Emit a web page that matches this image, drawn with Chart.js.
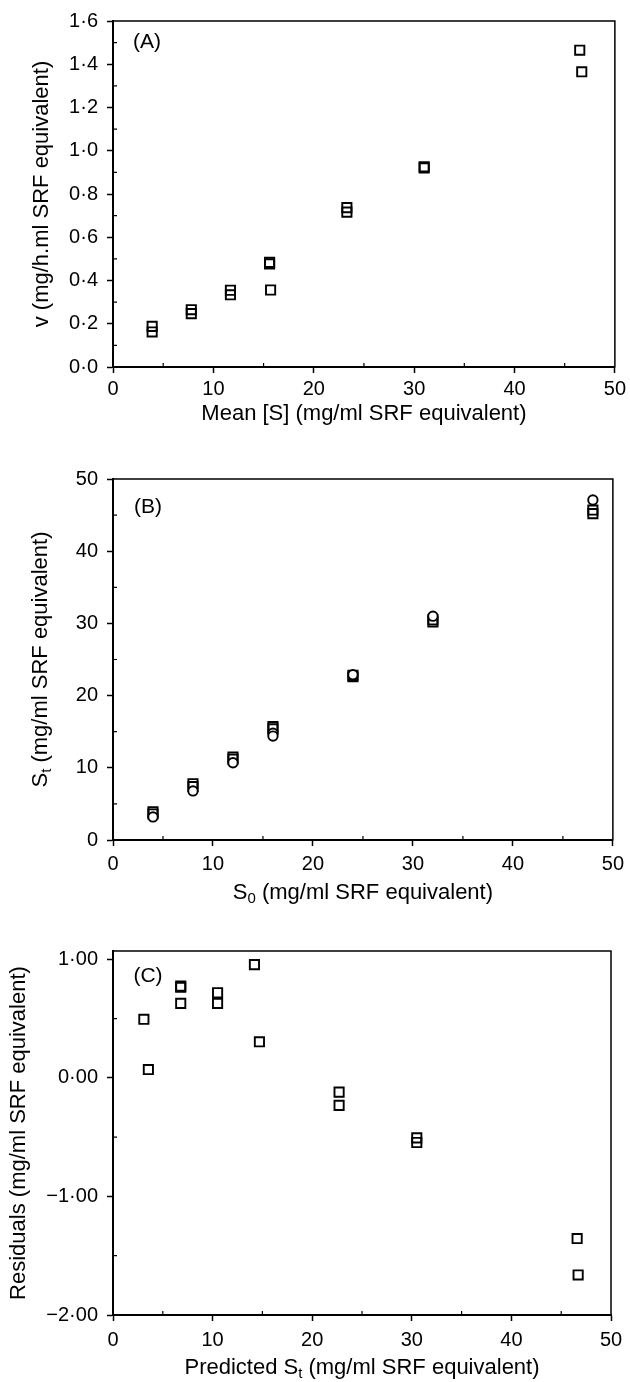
<!DOCTYPE html>
<html>
<head>
<meta charset="utf-8">
<script src="https://cdn.jsdelivr.net/npm/chart.js@4.4.1/dist/chart.umd.min.js"></script>
<style>
  body { margin: 0; background: #fff; }
  .panel { position: absolute; left: 0; }
</style>
</head>
<body>
<canvas id="panel-a" class="panel" width="630" height="435" style="top:0"></canvas>
<canvas id="panel-b" class="panel" width="630" height="475" style="top:435px"></canvas>
<canvas id="panel-c" class="panel" width="630" height="472" style="top:910px"></canvas>
<script>
// (A) initial rate against mean substrate concentration
const meanS = [3.9, 3.9, 7.8, 7.8, 11.7, 11.7, 15.6, 15.6, 15.7, 23.3, 23.3, 31.0, 31.0, 46.5, 46.7];
const rateV = [0.188, 0.162, 0.265, 0.247, 0.355, 0.334, 0.484, 0.477, 0.356, 0.737, 0.716, 0.926, 0.921, 1.465, 1.365];

// (B) substrate remaining against starting substrate
const s0Squares = [4, 4, 8, 8, 12, 12, 16, 16, 24, 24, 32, 32, 48, 48];
const stSquares = [3.9, 3.6, 7.8, 7.4, 11.5, 11.2, 15.7, 15.4, 22.6, 22.8, 30.2, 30.5, 45.7, 45.2];
const s0Circles = [4, 8, 12, 16, 16, 24, 32, 48];
const stCircles = [3.2, 6.8, 10.7, 14.8, 14.4, 22.9, 31.0, 47.1];

// (C) residuals against predicted St
const predictedSt = [3.1, 3.55, 6.8, 6.8, 6.8, 10.5, 10.5, 14.2, 14.7, 22.7, 22.7, 30.5, 30.5, 46.6, 46.7];
const residuals = [0.494, 0.07, 0.774, 0.764, 0.628, 0.718, 0.628, 0.955, 0.304, -0.12, -0.232, -0.506, -0.545, -1.355, -1.662];

// tick values
const concTicks = [0, 10, 20, 30, 40, 50];
const rateTicks = [0, 0.2, 0.4, 0.6, 0.8, 1.0, 1.2, 1.4, 1.6];
const residualTicks = [-2, -1, 0, 1];

const FONT = '"Liberation Sans", Arial, Helvetica, sans-serif';
Chart.defaults.font.family = FONT;
Chart.defaults.font.size = 20;
Chart.defaults.color = "#000";

const dot = (v, d) => (v < 0 ? "\u2212" : "") + Math.abs(v).toFixed(d).replace(".", "\u00b7");
const pts = (xs, ys) => xs.map((x, i) => ({ x, y: ys[i] }));

// text with subscript parts, centred on (0,0) of the current transform
function drawRich(ctx, parts) {
  const font = (p) => (p.sub ? "15px " : "22px ") + FONT;
  let total = 0;
  parts.forEach((p) => {
    ctx.font = font(p);
    total += ctx.measureText(p.t).width;
  });
  let x = -total / 2;
  parts.forEach((p) => {
    ctx.font = font(p);
    ctx.fillText(p.t, x, p.sub ? 6 : 0);
    x += ctx.measureText(p.t).width;
  });
}

const panelDecor = {
  id: "panelDecor",
  afterDraw(chart, args, opts) {
    const { ctx, chartArea: a, scales } = chart;
    const sx = scales.x;
    const sy = scales.y;
    ctx.save();
    ctx.strokeStyle = "#000";
    ctx.fillStyle = "#000";
    ctx.lineWidth = 1.5;
    ctx.strokeRect(a.left, a.top, a.right - a.left, a.bottom - a.top);

    // minor ticks, short and inward
    ctx.lineWidth = 1.2;
    ctx.beginPath();
    for (let k = 0; ; k++) {
      const v = sx.min + (2 * k + 1) * opts.minorX;
      if (v >= sx.max) break;
      const px = sx.getPixelForValue(v);
      ctx.moveTo(px, a.bottom);
      ctx.lineTo(px, a.bottom - 4);
    }
    for (let k = 0; ; k++) {
      const v = opts.yStart + (2 * k + 1) * opts.minorY;
      if (v >= sy.max) break;
      const py = sy.getPixelForValue(v);
      ctx.moveTo(a.left, py);
      ctx.lineTo(a.left + 4, py);
    }
    ctx.stroke();

    ctx.textBaseline = "middle";
    ctx.font = "21px " + FONT;
    ctx.textAlign = "center";
    ctx.fillText(opts.label, a.left + opts.labelDx, a.top + opts.labelDy);

    ctx.textAlign = "left";
    ctx.save();
    ctx.translate((a.left + a.right) / 2, a.bottom + opts.xTitleDy);
    drawRich(ctx, opts.xTitle);
    ctx.restore();

    ctx.save();
    ctx.translate(a.left + opts.yTitleDx, (a.top + a.bottom) / 2);
    ctx.rotate(-Math.PI / 2);
    drawRich(ctx, opts.yTitle);
    ctx.restore();
    ctx.restore();
  },
};

function axis(tickValues, min, max, fmt, fitSize, pad) {
  return {
    type: "linear",
    min,
    max,
    afterBuildTicks: (s) => {
      s.ticks = tickValues.map((value) => ({ value }));
    },
    afterFit: (s) => {
      if (s.isHorizontal()) s.height = fitSize;
      else s.width = fitSize;
    },
    grid: {
      drawOnChartArea: false,
      drawTicks: true,
      tickLength: 6,
      tickWidth: 1.5,
      tickColor: "#000",
    },
    border: { display: true, color: "#000", width: 2 },
    ticks: { padding: pad, callback: fmt, autoSkip: false, maxRotation: 0 },
  };
}

const squares = (data) => ({
  data,
  pointStyle: "rect",
  pointRadius: 6.5,
  borderColor: "#000",
  backgroundColor: "rgba(0,0,0,0)",
  borderWidth: 1.9,
});

const circles = (data) => ({
  data,
  pointStyle: "circle",
  pointRadius: 4.7,
  borderColor: "#000",
  backgroundColor: "#fff",
  borderWidth: 1.9,
});

const common = {
  responsive: false,
  animation: false,
  events: [],
};

// eslint-disable-next-line no-unused-vars
const chartA = new Chart(document.getElementById("panel-a"), {
  type: "scatter",
  data: { datasets: [squares(pts(meanS, rateV))] },
  options: {
    ...common,
    layout: { padding: { left: 0, right: 11, top: 16, bottom: 0 } },
    plugins: {
      legend: { display: false },
      tooltip: { enabled: false },
      panelDecor: {
        label: "(A)",
        labelDx: 34,
        labelDy: 21,
        minorX: 5,
        minorY: 0.1,
        yStart: 0,
        xTitleDy: 47,
        yTitleDx: -71,
        xTitle: [{ t: "Mean [S] (mg/ml SRF equivalent)" }],
        yTitle: [{ t: "v (mg/h.ml SRF equivalent)" }],
      },
    },
    scales: {
      x: axis(concTicks, 0, 50, (v) => String(v), 68, 4),
      y: axis(rateTicks, 0, 1.6, (v) => dot(v, 1), 113, 9),
    },
  },
  plugins: [panelDecor],
});

// eslint-disable-next-line no-unused-vars
const chartB = new Chart(document.getElementById("panel-b"), {
  type: "scatter",
  data: {
    datasets: [circles(pts(s0Circles, stCircles)), squares(pts(s0Squares, stSquares))],
  },
  options: {
    ...common,
    layout: { padding: { left: 0, right: 15, top: 44, bottom: 0 } },
    plugins: {
      legend: { display: false },
      tooltip: { enabled: false },
      panelDecor: {
        label: "(B)",
        labelDx: 35,
        labelDy: 28,
        minorX: 5,
        minorY: 5,
        yStart: 0,
        xTitleDy: 53,
        yTitleDx: -72,
        xTitle: [{ t: "S" }, { t: "0", sub: true }, { t: " (mg/ml SRF equivalent)" }],
        yTitle: [{ t: "S" }, { t: "t", sub: true }, { t: " (mg/ml SRF equivalent)" }],
      },
    },
    scales: {
      x: axis(concTicks, 0, 50, (v) => String(v), 70, 6),
      y: axis(concTicks, 0, 50, (v) => String(v), 113, 9),
    },
  },
  plugins: [panelDecor],
});

// eslint-disable-next-line no-unused-vars
const chartC = new Chart(document.getElementById("panel-c"), {
  type: "scatter",
  data: { datasets: [squares(pts(predictedSt, residuals))] },
  options: {
    ...common,
    layout: { padding: { left: 0, right: 19, top: 41, bottom: 0 } },
    plugins: {
      legend: { display: false },
      tooltip: { enabled: false },
      panelDecor: {
        label: "(C)",
        labelDx: 35,
        labelDy: 25,
        minorX: 5,
        minorY: 0.5,
        yStart: -2,
        xTitleDy: 53,
        yTitleDx: -94,
        xTitle: [{ t: "Predicted S" }, { t: "t", sub: true }, { t: " (mg/ml SRF equivalent)" }],
        yTitle: [{ t: "Residuals (mg/ml SRF equivalent)" }],
      },
    },
    scales: {
      x: axis(concTicks, 0, 50, (v) => String(v), 67, 7),
      y: axis(residualTicks, -2, 1.07, (v) => dot(v, 2), 113, 9),
    },
  },
  plugins: [panelDecor],
});
</script>
</body>
</html>
